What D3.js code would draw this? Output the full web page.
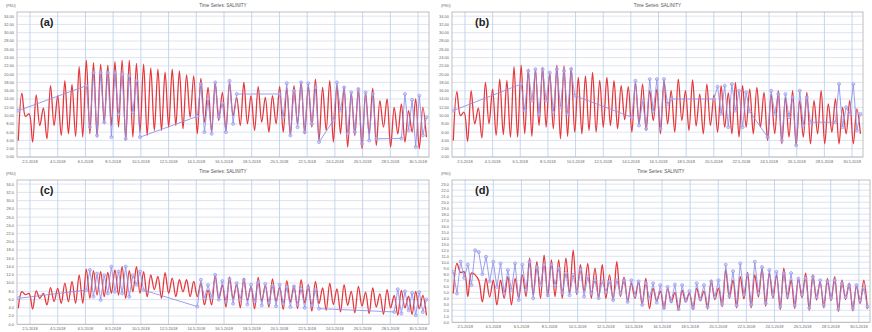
<!DOCTYPE html>
<html><head><meta charset="utf-8">
<script src="https://cdn.jsdelivr.net/npm/d3@7"></script>
<style>
html,body{margin:0;padding:0;background:#fff;}
svg{display:block;font-family:"Liberation Sans",Arial,sans-serif;}
</style></head><body>
<svg id="chart" width="872" height="332"></svg>
<script>
// Salinity time series at four stations: model (red) against observations (blue).
// Model values are successive low / high water extremes, one every 6.2 h.
const panelLabels = ["(a)", "(b)", "(c)", "(d)"];
const chartTitle = "Time Series: SALINITY";
const unitLabel = "(PSU)";
const yTickStep = [2, 2, 2, 1];
const yTickTop = [34, 34, 34, 23];
const yTickDigits = [2, 2, 1, 1];
const dateTicks = ["2018-05-02","2018-05-04","2018-05-06","2018-05-08","2018-05-10","2018-05-12","2018-05-14","2018-05-16","2018-05-18","2018-05-20","2018-05-22","2018-05-24","2018-05-26","2018-05-28","2018-05-30"];

const modelLowA = [4,9.8,3.6,7.6,4.4,7.6,5.2,5.6,5,4.8, 5.6,4.8,8,7.6,7.2,4,4.8,6,5.2,6.4, 6.4,7.2,7.6,6.8,9.6,5.6,8.4,6,8.8,6.4, 10,7.6,8,6.4,8.4,6,8,6,5.2,8, 5.6,7.2,4,6.4,3.6,5.6,2.4,5.2,2,5.6, 2.8,7.2,2.4,5.6,3.6,6,2,4.8];
const modelHighA = [15.4,10.4,15,11.8,17.2,14.8,18.4,17.5,21.8,23.4, 22.8,22.4,22.2,23,23.4,23.4,22.6,22.4,21.5,21.2, 20.5,21.2,20.8,19.8,19.6,19,16.8,18,15.6,18, 14.4,18,14.8,17,14.4,14.8,17,16.6,17.2,18.2, 17.2,18.8,16.8,18.4,17.2,17,15.6,16.6,15.6,16.6, 13.6,14,12,12.8,11.2,14,12];
const obsRunsA = [
  [0, [11.2]],
  [19, [17.2,7.2,20.4,5.2,20.4,8.4,20.4,4.8,20.4,10.4,20,4.4,19.6,10.8,18.4,4.8]],
  [50, [9.8,17.6,6,14,5.6,18,9.6,13,6,18.4,8,15.2]],
  [73, [15.2,9.6,17.8,5.2,16,7.2,18,6,17.8,8,16.8,3.6]],
  [88, [8.8,18,11.2,16.8,5.6,15.6,6,16.4,3.2,15.6,4,15.2,4.4]],
  [107, [4.5,15.2,6.4,13.8,2.4,14.8,5.2,9.6]]
];

const modelLowB = [4,10,3.8,8,4.6,8,5.2,5.4,4.8,4.8, 5.6,5,7.6,7.2,6.8,4.4,5,6,5.6,6.4, 6,7.2,7.6,6.8,9,6,8,6.4,8.8,5.6, 8,6,8.8,6.4,7.5,5.6,7.6,6,7.2,5.6, 4.8,7.2,5.6,7.2,4,5.6,3.2,4.8,2.8,4.8, 3.2,5.6,3.2,6,3.2,5.6,3.2,5.6];
const modelHighB = [15.8,10.8,16,11.8,18,16.4,18.8,18.5,21.8,22.2, 21.2,21.2,21.6,20.4,22.2,22,21.6,19.2,19.6,20.4, 18.5,19.2,18.4,17.2,17,18,17.6,16,16.4,18.4, 16,18.8,16,18.6,15.2,17.6,15,17.2,15.5,18, 17.2,16.4,16.8,15.6,15.2,16,14.4,16,13.6,15.6, 13.6,16,12.8,14,12,13.6,11.6];
const obsRunsB = [
  [0, [11.2]],
  [19, [17.6,11.2,20.8,13.6,21.2,10.4,21.2,13.6,20.4,10.8,21.2,12,20.8,10.4,21.2,14.8]],
  [50, [9.6,18.4,7.6,13.6,6.8,18.8,11,18.8,6.8,18.8,12.8,14]],
  [73, [14,17,10.4,17.2,7.2,17.6,11.2,16,7.2,15.6,11]],
  [88, [4.8,16,10.4,15.2,4,15.2,9.6,14.4,2.8,16,7.6,14.4,8.4]],
  [107, [8.4,17.6,7.2,12,10.4,17.6,6.4,10.4]]
];

const modelLowC = [3.9,7.2,3.7,6.3,4.7,5.5,5.1,5.5,5.1,5.1, 6.3,7.1,6.7,7.5,7.1,6.3,7.9,7.5,6.7,8.4, 6.3,7.5,6.7,7.9,6.7,6.7,4.7,4.7,6,4.2, 6.2,4,5.8,3.8,5.6,4.2,5.6,3.6,5.4,3.8, 5.2,3.2,5,3.4,4.8,3,4.6,2.8,4.4,2.6, 4.2,2.4,4,2.2,4,2.4,3.8,2.2];
const modelHighC = [7.9,7.5,8.1,7.5,8.9,8.7,10,10.4,12,13.4, 13,12.8,12.6,13.2,14,13,14,12.8,12,11.6, 12.5,11.2,10.8,10.8,10.4,10,8.3,12,9.5,11.5, 9.8,11.2,9.2,11.4,9.5,11,9,10.6,9.4,10.8, 9.6,10.4,8.8,10,8.6,9.6,8,9.2,7.8,8.8, 7.4,8.4,7,8.2,6.8,8,7];
const obsRunsC = [
  [0, [6.3]],
  [19, [8.3,13.2,6.7,12.3,5.9,11.9,7.5,14,7.9,12.8,7.5,14,6.7,11.9,9.6,12.8,8.3]],
  [50, [4.3,10.8,6.3,9.5,6.5,12,6,10.5,5.5,11,5,10,6,10.8,4.8,9.6,5.5,10.2,4.6,9.8,5.2,9.4,4.4,9.6,5,9,4.2,9.2,4.8,8.6,4,9,4.6,8.4,3.8]],
  [105, [3,8.5,2.6,8,3.4,7.6,2.2,7.8,3,6]]
];

const modelLowD = [4.8,8.3,4.3,7.9,3.4,4.2,2.9,4,2.9,4, 4.3,4.6,4,4.3,4.3,4,4.8,4.6,5.1,4, 4,4,3.7,4.3,3.4,4,2.9,2.3,3.5,2.2, 3.3,2,3.4,2.1,3.6,2.2,3.8,2.6,4,2.4, 3.9,2.4,4.2,2.7,4,2.1,3.9,2.3,4.1,2, 3.7,2.4,3.6,1.8,3.8,1.9,3.1,2.2];
const modelHighD = [9.8,8.4,8.2,7,7.3,7,7,7.6,7.3,7.9, 10.7,10.1,11.2,10.4,10.4,10.7,12,9.6,9.8,9, 9.6,7.9,10.1,7.5,6.5,6.8,7.3,5.7,5.2,5.7, 5,5.3,4.9,5.7,5.2,7,5.7,8.7,7,7.6, 8.3,7.9,9,8.2,7.9,9,7,7.3,8.2,7.9, 6.8,7.3,7.6,7,6.5,6.2,7];
const obsRunsD = [
  [0, [8.4,4.8,10.1,7.4,9.6,6.2,12,11.7,8,10.9, 6.8,10.1,5.9,9.8,4.8,8.7,5.4,9.8,3.7,9.6, 5.4,10.1,4,9.2,6.2,9.6,4.5,9.6,6.2,9, 4.9,8.2,4.5,7.9,5.1,8.7,4.3,7.6,4.8,7, 4,6.8,5.1,6.8,3.7,7,4.8,7,3.4,7, 4.5,6.8,2.9,6.5,4,6.5,3.3,6.2,2.4,5.9, 3.5,6.3,2.2,6.2,3.6,5.2,2.4,6.5,3.8,6.2, 2.6,6.8,4.2,7,3,9.6,4.4,8.5,2.8,9.8, 4.6,7.9,2.9,10.1,4.8,9.2,3.2,8.7,4.6,8.4, 2.6,8.2,4.4,8.2,2.8,7.3,4.6,7.3,2.4,7.6, 4.2,7,2.8,6.8,4,7,2.2,6.5,4.2,6.2, 2.3,6.2,3.6,5.7,2.6]]
];

// ---- layout ----
const viewStart = new Date(Date.UTC(2018, 4, 1, 1, 30));
const viewEnd = new Date(Date.UTC(2018, 4, 30, 19, 0));
const firstSample = Date.UTC(2018, 4, 1, 3, 45);
const sampleMs = 6.2 * 3600 * 1000;
const sampleTime = i => new Date(firstSample + i * sampleMs);

const frames = [
  {x0: 17, x1: 429, y0: 12, y1: 157, yMax: 35, title: 11},
  {x0: 452, x1: 863, y0: 12, y1: 157, yMax: 35, title: 11},
  {x0: 17, x1: 429, y0: 180, y1: 324.3, yMax: 35, title: 177},
  {x0: 452, x1: 870, y0: 180, y1: 322.3, yMax: 23.7, title: 177}
];
const series = [
  [modelLowA, modelHighA, obsRunsA],
  [modelLowB, modelHighB, obsRunsB],
  [modelLowC, modelHighC, obsRunsC],
  [modelLowD, modelHighD, obsRunsD]
];

const svg = d3.select("#chart");
const fmtDate = d3.utcFormat("%-d.%-m.%Y");
const parseDate = d3.utcParse("%Y-%m-%d");

frames.forEach((f, p) => {
  const [lows, highs, runs] = series[p];
  const x = d3.scaleUtc().domain([viewStart, viewEnd]).range([f.x0, f.x1]);
  const y = d3.scaleLinear().domain([0, f.yMax]).range([f.y1, f.y0]);
  const g = svg.append("g");

  // horizontal grid + y tick labels
  const yTicks = d3.range(0, yTickTop[p] + 1e-6, yTickStep[p]);
  g.selectAll("line.hg").data(yTicks).join("line")
    .attr("x1", f.x0).attr("x2", f.x1)
    .attr("y1", d => y(d)).attr("y2", d => y(d))
    .attr("stroke", "#d3ddef").attr("stroke-width", 0.8);
  g.selectAll("text.yl").data(yTicks).join("text")
    .attr("x", f.x0 - 3).attr("y", d => y(d) + 1.4)
    .attr("text-anchor", "end").attr("font-size", 4).attr("fill", "#666")
    .text(d => d.toFixed(yTickDigits[p]));

  // vertical grid + date labels
  const dates = dateTicks.map(parseDate);
  g.selectAll("line.vg").data(dates).join("line")
    .attr("x1", d => x(d)).attr("x2", d => x(d))
    .attr("y1", f.y0).attr("y2", f.y1)
    .attr("stroke", "#bfd1ec").attr("stroke-width", 0.9);
  g.selectAll("text.xl").data(dates).join("text")
    .attr("x", d => x(d)).attr("y", f.y1 + 6)
    .attr("text-anchor", "middle").attr("font-size", 4).attr("fill", "#666")
    .text(fmtDate);

  // frame
  g.append("rect").attr("x", f.x0).attr("y", f.y0)
    .attr("width", f.x1 - f.x0).attr("height", f.y1 - f.y0)
    .attr("fill", "none").attr("stroke", "#b0b0b0").attr("stroke-width", 0.8);

  g.append("text").attr("x", f.x0 - 11).attr("y", f.y0 - 5)
    .attr("font-size", 3.6).attr("fill", "#666").text(unitLabel);
  g.append("text").attr("x", (f.x0 + f.x1) / 2).attr("y", f.title - 4)
    .attr("text-anchor", "middle").attr("font-size", 4.6).attr("fill", "#555").text(chartTitle);

  // model series: interleave low / high extremes
  const model = [];
  lows.forEach((lo, k) => {
    model.push(lo);
    if (k < highs.length) model.push(highs[k]);
  });
  const modelPts = model.map((v, i) => ({t: sampleTime(i), v}));

  // observations
  const obs = [];
  runs.forEach(([from, vals]) => vals.forEach((v, j) => obs.push({t: sampleTime(from + j), v})));

  const clip = "clip" + p;
  svg.append("clipPath").attr("id", clip).append("rect")
    .attr("x", f.x0).attr("y", f.y0).attr("width", f.x1 - f.x0).attr("height", f.y1 - f.y0);
  const plot = g.append("g").attr("clip-path", `url(#${clip})`);

  plot.append("path").datum(modelPts)
    .attr("fill", "none").attr("stroke", "#e5383c").attr("stroke-width", 1.3)
    .attr("stroke-linejoin", "round")
    .attr("d", d3.line().x(d => x(d.t)).y(d => y(d.v)).curve(d3.curveCatmullRom.alpha(0.5)));

  plot.append("path").datum(obs)
    .attr("fill", "none").attr("stroke", "#8d8de8").attr("stroke-width", 1)
    .attr("stroke-opacity", 0.85)
    .attr("d", d3.line().x(d => x(d.t)).y(d => y(d.v)));
  plot.selectAll("circle").data(obs).join("circle")
    .attr("cx", d => x(d.t)).attr("cy", d => y(d.v)).attr("r", 1.5)
    .attr("fill", "#c8c8fb").attr("fill-opacity", 0.55)
    .attr("stroke", "#9a9aee").attr("stroke-width", 0.8);

  g.append("text").attr("x", f.x0 + 23).attr("y", f.y0 + 14)
    .attr("font-size", 11).attr("font-weight", "bold").attr("fill", "#222")
    .text(panelLabels[p]);
});
</script>
</body></html>
